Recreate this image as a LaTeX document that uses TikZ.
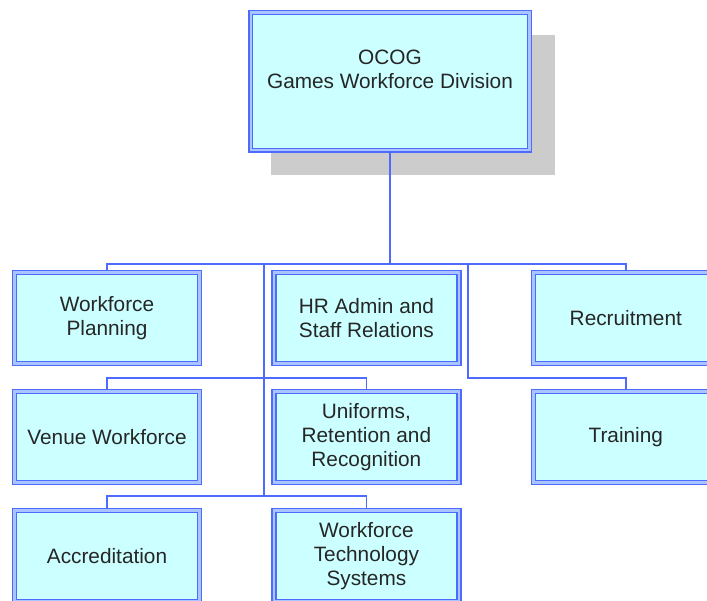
\documentclass[tikz,border=0pt]{standalone}
\usepackage{fontspec}
\setmainfont{Liberation Sans}
\usetikzlibrary{positioning,shadows}
\definecolor{lineBlue}{HTML}{4D6BFF}
\definecolor{gapBlue}{HTML}{A9C4FF}
\definecolor{boxCyan}{HTML}{CCFFFF}
\definecolor{shadowGray}{HTML}{CCCCCC}

\begin{document}
\begin{tikzpicture}[
  x=1pt, y=-1pt,
  node distance=22.5pt and 69pt,
  every node/.style={font=\fontsize{20.8}{24}\selectfont, align=center, text=black!85},
  unit/.style={draw=lineBlue,double=gapBlue,double distance=2.5pt,line width=1.4pt,fill=boxCyan,minimum width=185pt,minimum height=91pt,inner sep=2pt,outer sep=2.7pt},
  head/.style={unit,minimum width=278.5pt,minimum height=137.5pt,drop shadow={shadow xshift=23pt,shadow yshift=-23pt,shadow scale=1.02,fill=shadowGray,opacity=1}},
  link/.style={draw=lineBlue,line width=1.6pt}
]
\useasboundingbox (0,0) rectangle (707,601);

% Division head
\node[head] (ocog) at (390,81.5) {OCOG\\Games Workforce Division\\ \mbox{}};

% Functional areas
\node[unit] (wp) at (107,318) {Workforce\\Planning};
\node[unit,right=of wp] (hr) {HR Admin and\\Staff Relations};
\node[unit,right=of hr] (rec) {Recruitment};
\node[unit,below=of wp] (venue) {Venue Workforce};
\node[unit,below=of hr] (unif) {Uniforms,\\Retention and\\Recognition};
\node[unit,below=of rec] (train) {Training};
\node[unit,below=of venue] (accr) {Accreditation};
\node[unit,below=of unif] (wts) {Workforce\\Technology\\Systems};

% Junction points
\coordinate (hub) at (390,264);
\coordinate (spineTop) at (264,264);
\coordinate (spineMid) at (264,378);
\coordinate (spineBot) at (264,496);
\coordinate (sideTop) at (468,264);
\coordinate (sideBot) at (468,378);

% Connections
\draw[link] (ocog.south) -- (hub);
\draw[link] (wp.north) |- (hub) -| (rec.north);
\draw[link] (spineTop) -- (spineBot);
\draw[link] (venue.north) |- (spineMid) -| (unif.north);
\draw[link] (accr.north) |- (spineBot) -| (wts.north);
\draw[link] (sideTop) -- (sideBot) -| (train.north);
\end{tikzpicture}
\end{document}
